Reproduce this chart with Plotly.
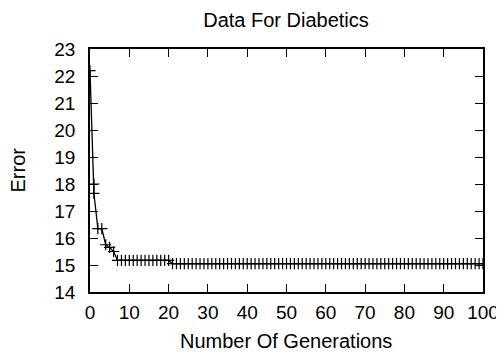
import plotly.graph_objects as go

generations = [0, 1, 1, 2, 3, 4, 5, 6] + list(range(7, 21)) + list(range(21, 101))
errors = [22.2, 18.0, 17.65, 16.35, 16.35, 15.75, 15.65, 15.5] + [15.17] * 14 + [15.05] * 80

x_ticks = list(range(0, 101, 10))
y_ticks = list(range(14, 24))

FONT = "Liberation Sans, Arial, Helvetica, sans-serif"
FS = 19
FT = 20
OFF = 8  # page body margin
W, H = 504 - OFF, 356 - OFF
L, R, T, B = 90 - OFF, 21, 49 - OFF, 64

fig = go.Figure()
fig.add_trace(go.Scatter(
    x=generations, y=errors, mode="lines+markers",
    line=dict(color="black", width=1.3),
    marker=dict(symbol="cross-thin", size=8, line=dict(color="black", width=1.2), color="black"),
    showlegend=False,
))

axis_common = dict(
    showline=True, linecolor="black", linewidth=1.5, mirror="ticks",
    ticks="inside", ticklen=8, tickwidth=1, tickcolor="black",
    showgrid=False, zeroline=False, automargin=False,
    tickfont=dict(family=FONT, size=FS, color="black"),
)

fig.update_layout(
    width=W, height=H,
    margin=dict(l=L, r=R, t=T, b=B, autoexpand=False),
    paper_bgcolor="white", plot_bgcolor="white",
    title=dict(text="Data For Diabetics", x=(286 - OFF) / W, xanchor="center",
               y=1 - (20 - OFF) / H, yref="container", yanchor="middle",
               font=dict(family=FONT, size=FT, color="black")),
    xaxis=dict(range=[0, 100], tickvals=x_ticks, ticktext=[str(v) for v in x_ticks],
               ticklabelstandoff=2, **axis_common),
    yaxis=dict(range=[14, 23], tickvals=y_ticks, ticktext=[str(v) for v in y_ticks],
               ticklabelstandoff=9, **axis_common),
    annotations=[
        dict(text="Number Of Generations", xref="paper", yref="paper",
             x=(286 - OFF - L) / (W - L - R), y=-(341 - OFF - (H - B)) / (H - T - B),
             xanchor="center", yanchor="middle", showarrow=False,
             font=dict(family=FONT, size=FT, color="black")),
        dict(text="Error", xref="paper", yref="paper",
             x=-(L - (17 - OFF)) / (W - L - R), y=0.5, textangle=-90,
             xanchor="center", yanchor="middle", showarrow=False,
             font=dict(family=FONT, size=FT, color="black")),
    ],
)

fig.write_html("out.html")
